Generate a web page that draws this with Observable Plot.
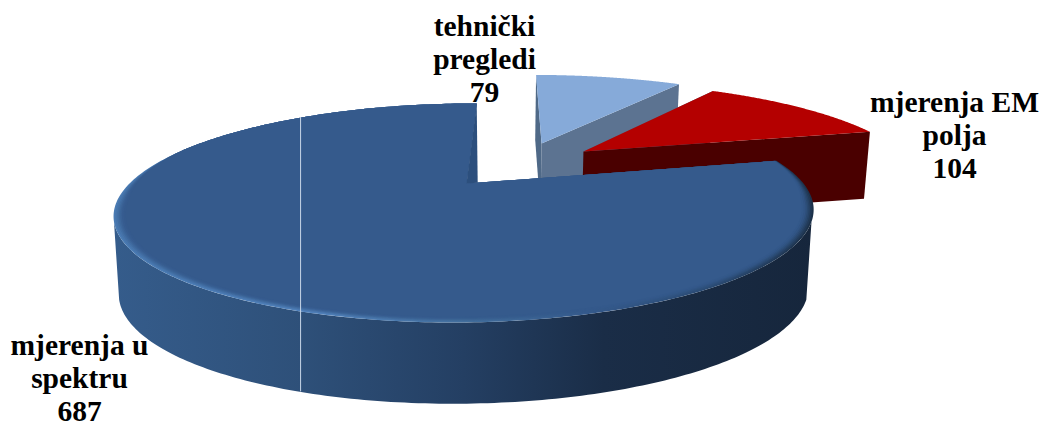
<!DOCTYPE html>
<html>
<head>
<meta charset="utf-8">
<script src="https://cdn.jsdelivr.net/npm/d3@7"></script>
<script src="https://cdn.jsdelivr.net/npm/@observablehq/plot@0.6"></script>
<style>html,body{margin:0;padding:0;background:#fff}</style>
</head>
<body>
<div id="chart"></div>
<script>
const categories = ["tehnički\npregledi", "mjerenja EM\npolja", "mjerenja u\nspektru"];
const values = [79, 104, 687];
const topColors = ["#86aad9", "#b40000", "#355a8c"];
const wallColors = ["#5c7391", "#4a0000", "url(#wall)"];
const leftFaceColor = "#4f6987";
// view of the pie
const view = {cx: 466, cy: 183, k: 0.269, A: 101.6, B: 337, C: -10, cyB: 259.6, Ab: 105, Bb: 332};
const explode = [[0.236, -0.44], [0.369, -0.344], [0, 0]];
const radius = [1.06, 1.03, 1];
const wallLift = [-8, -8, 0];
const labelX = [484, 954, 79];
const labelY = [57.5, 133.5, 377];
const seamFrontAngle = 200.2; // degrees clockwise from the top of the pie
const seamBackAngle = 322;

const top3d = ([u, v]) => {
  const d = 1 - view.k * v;
  return {x: view.cx + (view.B * u + view.C * v) / d, y: view.cy + view.A * v / d};
};
const bot3d = ([u, v], lift = 0) => {
  const d = 1 - view.k * v;
  return {x: view.cx + (view.Bb * u + view.C * v) / d, y: view.cyB + lift + view.Ab * v / d};
};
const rad = (a) => a * Math.PI / 180;
const disk = (a, r, o = [0, 0]) => [o[0] + r * Math.sin(a), o[1] - r * Math.cos(a)];
const arcs = d3.pie().sort(null).startAngle(rad(0.5)).endAngle(rad(360.5))(values);
const sweep = (a0, a1, n = 160) => d3.range(n + 1).map((i) => a0 + (a1 - a0) * i / n);

const poly = (pts, fill, fillOpacity = 1) => Plot.line(pts, {x: "x", y: "y", fill, fillOpacity, stroke: "none"});

const defs = () => {
  const g = d3.create("svg:defs");
  const grad = (id, stops) => {
    const l = g.append("linearGradient").attr("id", id).attr("gradientUnits", "userSpaceOnUse")
      .attr("x1", 113).attr("x2", 813).attr("y1", 0).attr("y2", 0);
    stops.forEach(([o, c]) => l.append("stop").attr("offset", o).attr("stop-color", c));
  };
  grad("wall", [[0, "#355c8b"], [0.27, "#2e5079"], [0.5, "#243f63"], [0.7, "#1a2d47"], [1, "#16263c"]]);
  grad("bevel", [[0, "#4a7bb3"], [0.3, "#5283bd"], [0.5, "#44719f"], [0.68, "#355a8c"], [0.85, "#2a4a72"], [1, "#1c3149"]]);
  return g.node();
};

const marks = [defs];

// exploded slices: cut faces, then top
[0, 1].forEach((i) => {
  const s = arcs[i], o = explode[i], r = radius[i], lift = wallLift[i];
  const apex = disk(0, 0, o), c0 = disk(s.startAngle, r, o), c1 = disk(s.endAngle, r, o);
  marks.push(poly([top3d(c0), top3d(apex), bot3d(apex, lift), bot3d(c0, lift)], leftFaceColor));
  marks.push(poly([top3d(apex), top3d(c1), bot3d(c1, lift), bot3d(apex, lift)], wallColors[i]));
  marks.push(poly([top3d(apex), ...sweep(s.startAngle, s.endAngle).map((a) => top3d(disk(a, r, o)))], topColors[i]));
});

// main slice
const big = arcs[2];
const wallAngles = sweep(rad(110), rad(250));
marks.push(poly([...wallAngles.map((a) => top3d(disk(a, 1))), ...wallAngles.slice().reverse().map((a) => bot3d(disk(a, 1)))], "url(#wall)"));

const bigFace = (inset) => [
  top3d([0, 0]),
  ...sweep(big.startAngle, big.endAngle, 300).map((a) => {
    const v = -Math.cos(a);
    const t = Math.max(0, Math.min(1, (v + 0.35) / 0.5));
    return top3d(disk(a, 1 - inset * t));
  })
];
marks.push(poly(bigFace(0), "url(#bevel)"));
[[0.005, 0.2], [0.01, 0.25], [0.014, 0.3], [0.018, 0.4], [0.022, 0.55], [0.027, 0.7], [0.032, 1]].forEach(([inset, op]) => {
  marks.push(poly(bigFace(inset), topColors[2], op));
});
// sliver of the cut face at the top
marks.push(poly([top3d(disk(big.endAngle, 1)), top3d([0, 0]), top3d(disk(big.startAngle, 0.034))], "#2c4f7d"));

// thin light seam
const seamBack = top3d(disk(rad(seamBackAngle), 1));
const seamFront = bot3d(disk(rad(seamFrontAngle), 1));
marks.push(Plot.ruleX([seamFront.x], {y1: seamBack.y, y2: seamFront.y, stroke: "#c8d6e8", strokeWidth: 1}));

// labels
const labels = categories.map((c, i) => ({text: `${c}\n${values[i]}`, x: labelX[i], y: labelY[i]}));
marks.push(Plot.text(labels, {
  x: "x", y: "y", text: "text", fill: "#000", fontWeight: "bold",
  fontFamily: "Liberation Serif", fontSize: 29.5, lineHeight: 1.12, lineAnchor: "middle", textAnchor: "middle"
}));

const chart = Plot.plot({
  width: 1042, height: 424, margin: 0,
  style: {background: "#fff"},
  x: {domain: [0, 1042], range: [0, 1042], axis: null},
  y: {domain: [0, 424], range: [0, 424], axis: null},
  marks
});
document.getElementById("chart").append(chart);
</script>
</body>
</html>
